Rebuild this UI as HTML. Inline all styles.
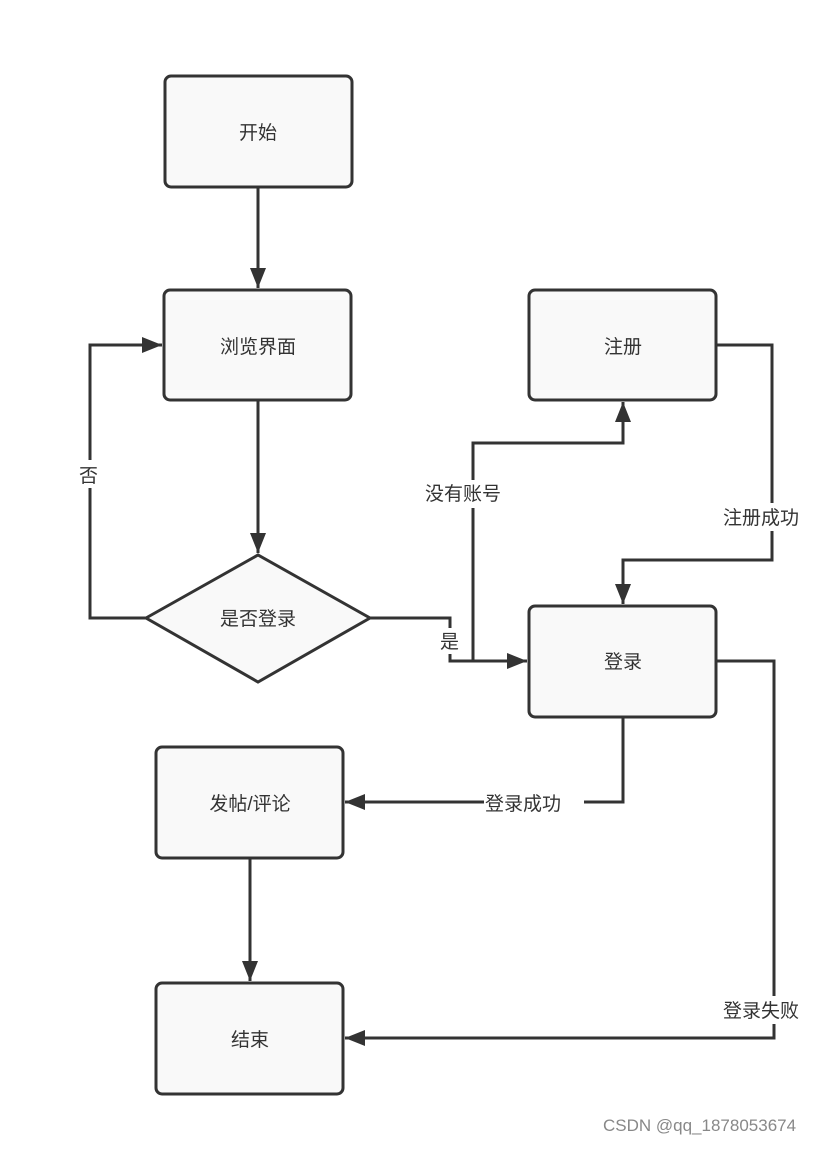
<!DOCTYPE html>
<html><head><meta charset="utf-8"><style>
body{margin:0;background:#fff;width:832px;height:1145px;overflow:hidden}
svg text{font-family:"Liberation Sans","Noto Sans CJK SC",sans-serif;font-size:19px;fill:#333}
</style></head><body>
<svg width="832" height="1145" xmlns="http://www.w3.org/2000/svg">
<defs><marker id="a" markerWidth="10" markerHeight="10" refX="9" refY="5" orient="auto" markerUnits="userSpaceOnUse"><path d="M0,0 L10,5 L0,10 Z" fill="#333"/></marker>
<marker id="b" viewBox="0 0 20 16" markerWidth="22" markerHeight="16" refX="20" refY="8" orient="auto" markerUnits="userSpaceOnUse"><path d="M0,0 L20,8 L0,16 Z" fill="#333"/></marker></defs>
<g fill="#f9f9f9" stroke="#333" stroke-width="3">
<rect x="165" y="76" width="187" height="111" rx="6"/>
<rect x="164" y="290" width="187" height="110" rx="6"/>
<rect x="529" y="290" width="187" height="110" rx="6"/>
<rect x="529" y="606" width="187" height="111" rx="6"/>
<rect x="156" y="747" width="187" height="111" rx="6"/>
<rect x="156" y="983" width="187" height="111" rx="6"/>
<polygon points="146,618 258,555 370,618 258,682"/>
</g>
<g fill="none" stroke="#333" stroke-width="3">
<path d="M258,187 V288" marker-end="url(#b)"/>
<path d="M258,400 V553" marker-end="url(#b)"/>
<path d="M146,618 H90 V345 H162" marker-end="url(#b)"/>
<path d="M370,618 H450 V661 H527" marker-end="url(#b)"/>
<path d="M473,661 V443 H623 V402" marker-end="url(#b)"/>
<path d="M716,345 H772 V560 H623 V604" marker-end="url(#b)"/>
<path d="M623,717 V802 H345" marker-end="url(#b)"/>
<path d="M716,661 H774 V1038 H345" marker-end="url(#b)"/>
<path d="M250,858 V981" marker-end="url(#b)"/>
</g>
<g text-anchor="middle">
<text x="258" y="139">开始</text>
<text x="258" y="353">浏览界面</text>
<text x="623" y="353">注册</text>
<text x="623" y="668">登录</text>
<text x="250" y="810">发帖/评论</text>
<text x="250" y="1046">结束</text>
<text x="258" y="625">是否登录</text>
</g>
<g font-size="19">
<rect x="78" y="460" width="24" height="28" fill="#fff"/><text x="79" y="482">否</text>
<rect x="440" y="628" width="24" height="26" fill="#fff"/><text x="440" y="648">是</text>
<rect x="424" y="480" width="100" height="28" fill="#fff"/><text x="425" y="500">没有账号</text>
<rect x="722" y="503" width="100" height="28" fill="#fff"/><text x="723" y="524">注册成功</text>
<rect x="484" y="790" width="100" height="26" fill="#fff"/><text x="485" y="810">登录成功</text>
<rect x="722" y="996" width="100" height="28" fill="#fff"/><text x="723" y="1017">登录失败</text>
<text x="603" y="1131" style="font-size:17px;fill:#888">CSDN @qq_1878053674</text>
</g>
</svg>
</body></html>
